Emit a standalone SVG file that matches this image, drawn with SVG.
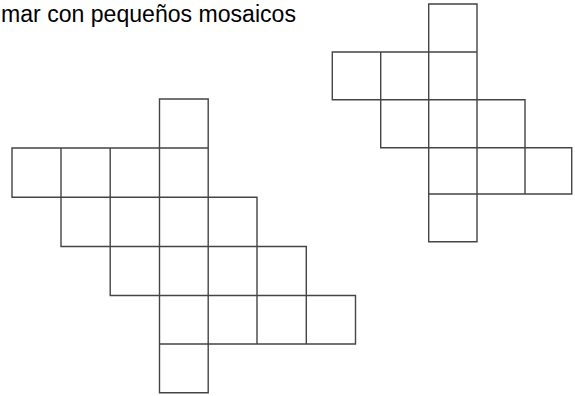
<svg xmlns="http://www.w3.org/2000/svg" width="575" height="396" viewBox="0 0 575 396">
<style>
.c{fill:none;stroke:#444;stroke-width:1.4;stroke-linecap:square}
.t{font-family:"Liberation Sans",Arial,sans-serif;font-size:23px;fill:#000}
</style>
<rect width="575" height="396" fill="#fff"/>
<text class="t" x="1" y="22.3" textLength="295" lengthAdjust="spacingAndGlyphs">mar con pequeños mosaicos</text>
<g id="figure-left">
<path class="c" d="M159.5 99H208.2 M12 148H208.2 M12 197.3H257 M61 246.5H306.3 M110.2 295.5H355.5 M159.5 344H355.5 M159.5 392.7H208.2
M12 148V197.3 M61 148V246.5 M110.2 148V295.5 M159.5 99V392.7 M208.2 99V392.7 M257 197.3V344 M306.3 246.5V344 M355.5 295.5V344"/>
</g>
<g id="figure-right">
<path class="c" d="M428.7 4H477 M332.3 52H477 M332.3 99.7H525 M380.7 147.7H571.7 M428.7 194H571.7 M428.7 241.7H477
M332.3 52V99.7 M380.7 52V147.7 M428.7 4V241.7 M477 4V241.7 M525 99.7V194 M571.7 147.7V194"/>
</g>
</svg>
